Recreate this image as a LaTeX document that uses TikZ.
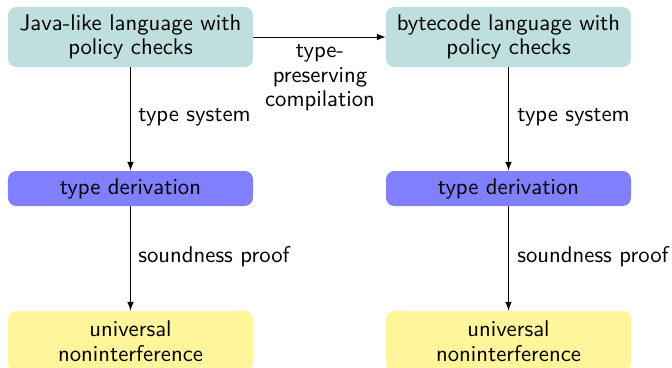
\documentclass[tikz,border=0pt]{standalone}
\usetikzlibrary{arrows}
\definecolor{boxteal}{RGB}{191,223,223}
\definecolor{boxblue}{RGB}{128,128,255}
\definecolor{boxyellow}{RGB}{255,245,155}
\begin{document}
\begin{tikzpicture}[x=0.48pt,y=-0.48pt,
  font=\sffamily\fontsize{10.9pt}{11.8pt}\selectfont,
  box/.style={rounded corners=4pt, align=center, inner sep=0pt, minimum width=117.6pt},
  tallbox/.style={box, minimum height=28.8pt},
  topbox/.style={tallbox, fill=boxteal},
  midbox/.style={box, fill=boxblue, minimum height=16.8pt},
  botbox/.style={tallbox, fill=boxyellow},
  conn/.style={-latex, line width=0.45pt},
  lbl/.style={anchor=west, inner sep=0pt}]
\useasboundingbox (0,0) rectangle (672,367);
\node[topbox] (jl) at (130.5,37) {Java-like language with\\policy checks};
\node[topbox] (bc) at (508.5,37) {bytecode language with\\policy checks};
\node[midbox] (td1) at (130.5,188.5) {type derivation};
\node[midbox] (td2) at (508.5,188.5) {type derivation};
\node[botbox] (un1) at (130.5,341) {universal\\noninterference};
\node[botbox] (un2) at (508.5,341) {universal\\noninterference};
\draw[conn] (jl) -- (bc);
\node[align=center, inner sep=0pt] (tpc) at (320,78) {type-\\preserving\\compilation};
\draw[conn] (jl) -- (td1);
\draw[conn] (bc) -- (td2);
\draw[conn] (td1) -- (un1);
\draw[conn] (td2) -- (un2);
\node[lbl] (ts1) at (138,117) {type system};
\node[lbl] (ts2) at (517,117) {type system};
\node[lbl] (sp1) at (138,257) {soundness proof};
\node[lbl] (sp2) at (517,257) {soundness proof};
\end{tikzpicture}
\end{document}
